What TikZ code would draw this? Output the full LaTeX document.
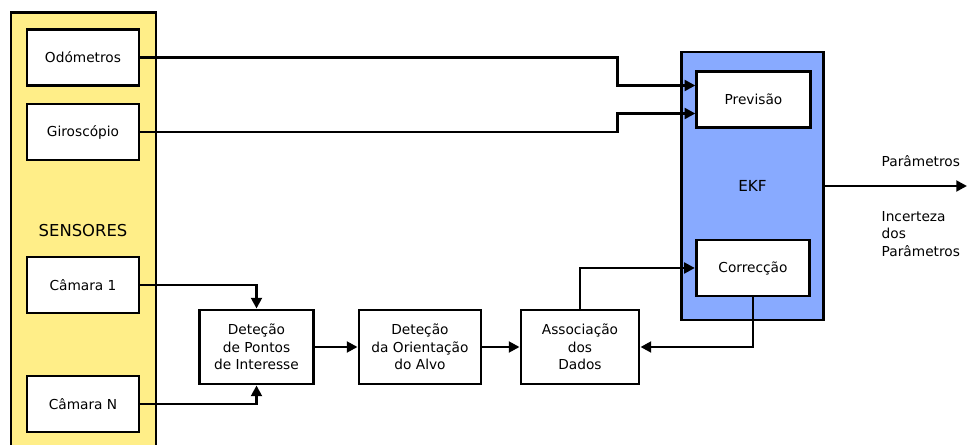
\documentclass[tikz,border=0pt]{standalone}
\usepackage{fontspec}
\setmainfont{DejaVu Sans}
\usetikzlibrary{arrows.meta}
\definecolor{sensyellow}{HTML}{FFEE88}
\definecolor{ekfblue}{HTML}{88AAFF}

\begin{document}
\begin{tikzpicture}[
  x=0.75pt, y=-0.75pt,
  every node/.style={font=\fontsize{10.3}{13}\selectfont},
  box/.style={draw,line width=2.2pt,fill=white,align=center,minimum width=#1,minimum height=42pt,inner sep=0pt},
  box/.default=84pt,
  group/.style={draw,line width=2.2pt,fill=#1},
  flow/.style={line width=2.2pt,-{Triangle[length=8pt,width=8pt]}}
  ]
\def\ymid{347}
\def\hstep{55.5pt}
\useasboundingbox (0,0) rectangle (968,445);
\node[group=sensyellow,minimum width=108.75pt,minimum height=343pt] (sensores) at (83.5,241.5) {};
\node[font=\fontsize{12.3}{14}\selectfont] (senslabel) at (83,231) {SENSORES};
\node[box] (odo) at (83,57.5) {Odómetros};
\node[box] (giro) at (83,132) {Giroscópio};
\node[box] (cam1) at (83,285) {Câmara 1};
\node[box] (camN) at (83,404) {Câmara N};
\node[box=85pt,minimum height=\hstep] (pontos) at (256.5,\ymid) {Deteção\\de Pontos\\de Interesse};
\node[box=91.5pt,minimum height=\hstep] (orient) at (420,\ymid) {Deteção\\da Orientação\\do Alvo};
\node[box=88.5pt,minimum height=\hstep] (assoc) at (580,\ymid) {Associação\\dos\\Dados};
\node[group=ekfblue,minimum width=107pt,minimum height=201pt,font=\fontsize{11.4}{14}\selectfont] (ekf) at (752.5,186) {EKF};
\node[box=85pt] (prev) at (753.5,99.5) {Previsão};
\node[box=85pt] (corr) at (753,268) {Correcção};
\coordinate (out) at (967,186);
\node[anchor=west] (param) at (877,161) {Parâmetros};
\node[anchor=west,align=left] (incert) at (877,234) {Incerteza\\dos\\Parâmetros};
\draw[flow] (odo.east) -- ++(477,0) |- ([yshift=10.5pt]prev.west);
\draw[flow] (giro.east) -- ++(477,0) |- ([yshift=-10.5pt]prev.west);
\draw[flow] (cam1.east) -| (pontos.north);
\draw[flow] (camN.east) -| (pontos.south);
\draw[flow] (pontos) -- (orient);
\draw[flow] (orient) -- (assoc);
\draw[flow] (assoc.north) |- (corr.west);
\draw[flow] (corr.south) |- (assoc.east);
\draw[flow] (ekf.east) -- (out);
\end{tikzpicture}
\end{document}
